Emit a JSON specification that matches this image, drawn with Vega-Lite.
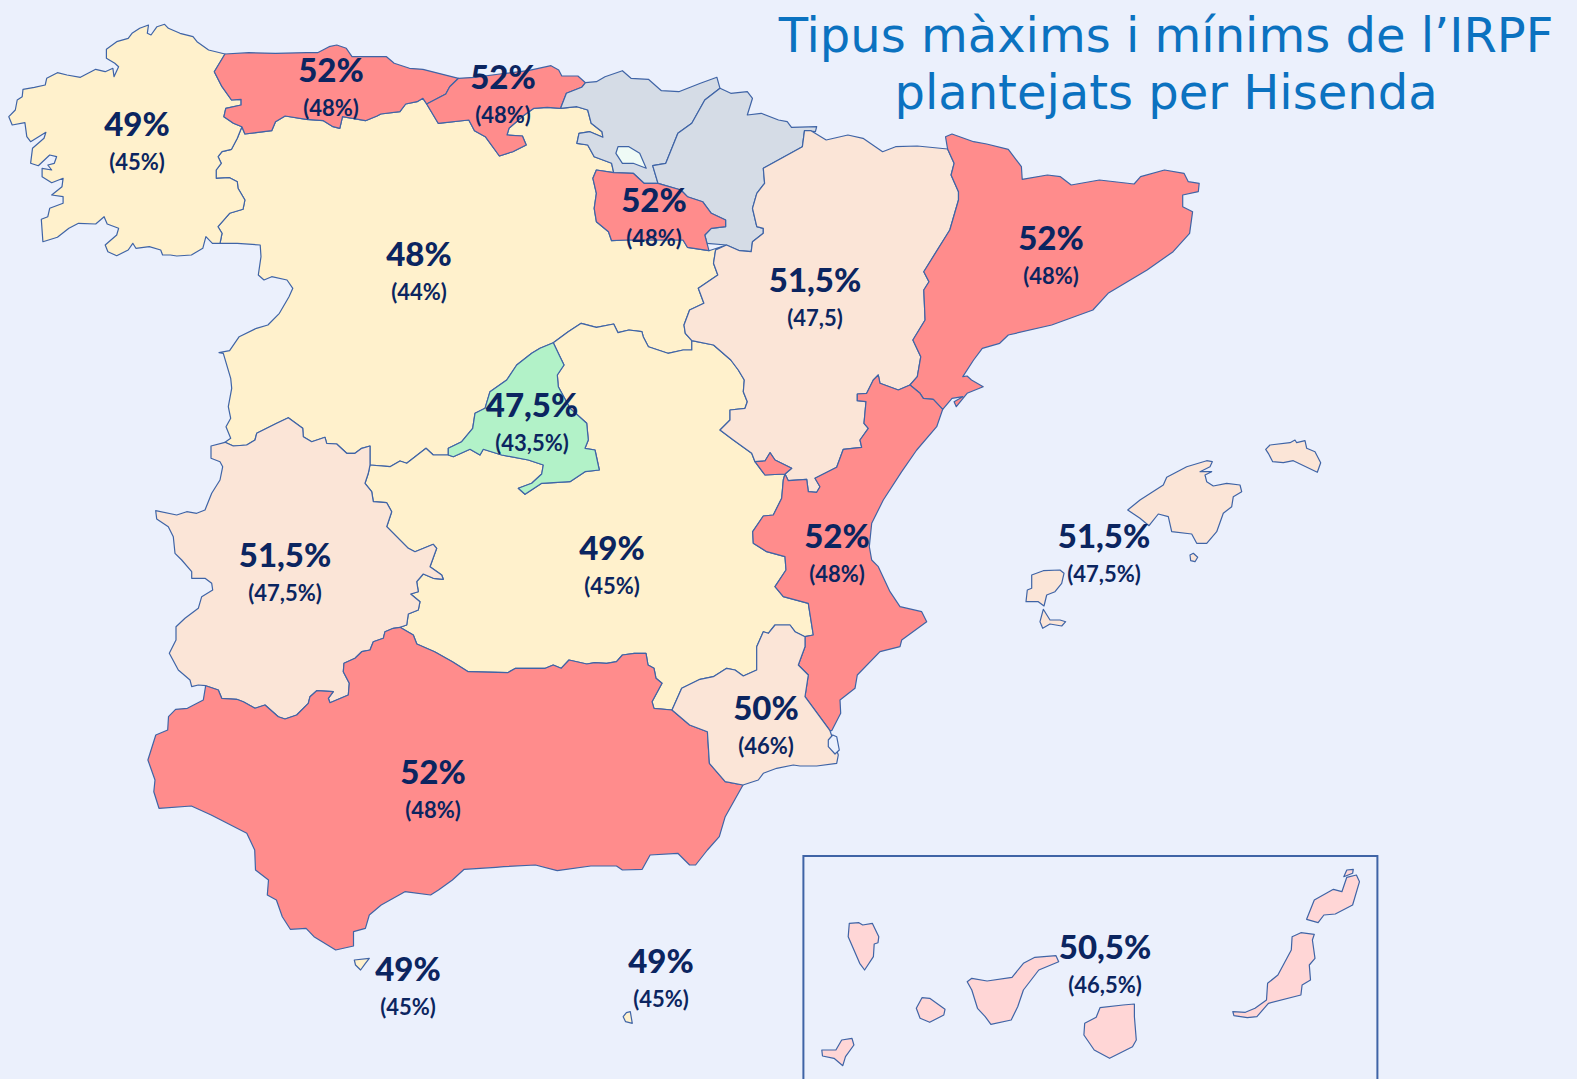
{
"$schema":"https://vega.github.io/schema/vega-lite/v6.json",
"width":1577,"height":1079,"padding":0,"autosize":{"type":"none"},"background":"#EBF0FC",
"config":{"view":{"stroke":null}},
"projection":{"type":"identity","scale":1,"translate":[0,0]},
"layer":[
{"data":{"values":[
{"type":"Feature","properties":{"region":"Castilla y León","group":"yellow"},"geometry":{"type":"Polygon","coordinates":[[[241.9,126.7],[244.9,134],[271.7,130.7],[275.5,121.7],[285.1,116],[306.2,119.3],[323.4,120.7],[333,126.7],[339.8,128.3],[342.5,116.7],[365.5,120.7],[377,116],[380.8,114],[399.9,111.7],[405.7,104],[417.1,101.7],[422.9,98.3],[426.7,104],[438.2,123.3],[468.8,120],[474.5,130.7],[485.3,136.7],[499.4,156],[512.8,151.7],[526.2,145],[522.4,136],[507,135],[509,128.3],[524.3,115],[533.9,108.3],[547.2,107.3],[560.6,108.3],[576.9,106.7],[587.7,110],[591.2,123.3],[602,131.7],[602.9,137.3],[589.9,131.7],[579,133.3],[576.9,143.3],[587.7,145],[594.2,156.7],[611.6,163.3],[613.7,172.7],[596.4,170],[592.9,178.3],[596.4,193.3],[594.2,208.3],[596.4,221.7],[608.5,231.7],[611.6,240.7],[626.7,240],[683,240],[687.4,247.3],[709,250.7],[726.5,245],[715.6,250],[713.5,263.3],[717.8,275],[698.3,288.3],[703.9,303.3],[689.6,310],[684,325],[685.3,333.3],[691.8,340.7],[691.8,350],[683.1,350],[667.9,353.3],[648.4,346.7],[643.2,336.7],[641.9,331.7],[628.9,330],[618,332.7],[613.7,324],[596.4,327.3],[581.2,323.3],[568.2,331.7],[553.3,342.7],[540,348.3],[531.7,353.3],[516.7,365],[506.7,380],[490,391.7],[485,408.3],[475,413.3],[472.7,428.3],[461.7,441.7],[448.3,448.3],[448.3,455],[433.3,455],[426,448.3],[406.7,463.3],[400,461],[390,466.7],[370,465],[370,446],[361.7,448.3],[355,453.3],[346.7,453.3],[336.7,444],[326.7,443.3],[325,437.3],[311.7,441.7],[303.3,436.7],[302.7,428.3],[288.3,417.7],[276.7,423.3],[256.7,433.3],[255,440],[246.7,445],[233.3,446],[225,442.3],[230.7,438.3],[226,426.7],[230.7,418.3],[228.3,406.7],[231.7,388.3],[230.7,378.3],[223.3,353.3],[219,352.7],[229.6,350.7],[239.2,336.7],[256.4,328.3],[267.9,325],[279.4,313.3],[289,296.7],[292.8,288.3],[287,280],[271.7,276.7],[264,280],[258.3,275],[261,256.7],[260.2,245],[237.3,243.3],[220,243.3],[222,233.3],[218,226.7],[229.6,213.3],[243,209.3],[244.9,200],[238,188.3],[237.3,181.7],[229.6,177.7],[216.2,178.3],[216.2,170],[221.2,163.3],[218.1,156.7],[222,151.7],[231.5,149.3],[237.3,138.3],[241.9,126.7]]]}},
{"type":"Feature","properties":{"region":"Castilla-La Mancha","group":"yellow"},"geometry":{"type":"Polygon","coordinates":[[[400,627.3],[413.3,635],[416.8,644],[434.6,651.7],[452.4,661.7],[468.2,671.7],[507.7,672.7],[515.6,668.3],[545.3,668.3],[553.2,665],[561.1,668.3],[569,660],[586.8,664],[594.7,662.7],[606.6,663.3],[616.5,661.7],[622.4,655],[634.3,653.3],[646,653.3],[648,665],[654,668.3],[656,678.3],[662,683.3],[652,701.7],[654,708.3],[672,710],[681.7,688.3],[700,679.3],[713.3,676.7],[726.7,668.3],[735,670],[743.3,676],[756.7,670],[756.7,646.7],[763.3,631.7],[768.3,633.3],[775,625],[790,625],[795,631.7],[805,636.7],[813.3,635],[808.3,603.3],[783.3,596.7],[775,586.7],[786,570],[785,556.7],[766.7,551.7],[753.3,543.3],[752.7,531.7],[763.3,516],[773.3,515],[781.7,498.3],[783.3,480],[785,474],[765,475],[755,461.7],[751.7,453.3],[733.3,440],[720,430],[730,420],[730,410],[745,408.3],[747.3,401.7],[743.3,391.7],[744.3,380],[738.3,370],[730.8,360],[713.5,345],[691.8,340.7],[691.8,350],[683.1,350],[667.9,353.3],[648.4,346.7],[643.2,336.7],[641.9,331.7],[628.9,330],[618,332.7],[613.7,324],[596.4,327.3],[581.2,323.3],[568.2,331.7],[553.3,342.7],[558.3,353.3],[564,365],[557.3,375],[558.3,386.7],[570,408.3],[586.7,423.3],[588.3,440],[585,448.3],[595,450],[599.3,470],[585,471.7],[570,481.7],[541.7,483.3],[525,494.3],[518.3,488.3],[531.7,483.3],[541.7,474],[543.3,465],[528.3,460],[501.7,455],[483.3,449.3],[480,455],[470,449.3],[453.3,456.7],[448.3,455],[433.3,455],[426,448.3],[406.7,463.3],[400,461],[390,466.7],[370,465],[368.3,473.3],[365,483.3],[371.7,491.7],[373.3,501.7],[386.7,502.7],[391.7,511.7],[386.7,526.7],[408.3,548.3],[415,551.7],[433.3,544.3],[436.7,548.3],[430,566.7],[441.7,575],[443.3,579.3],[433.3,578.3],[423.3,574],[416.7,581.7],[418.3,591.7],[410.7,594],[420,601.7],[418.3,610],[408.3,614],[406.7,625],[400,627.3]]]}},
{"type":"Feature","properties":{"region":"Galicia","group":"yellow"},"geometry":{"type":"Polygon","coordinates":[[[225,54],[208.6,50],[197,41.7],[193,36.7],[180,33.3],[168.4,28.3],[164.6,24.3],[157,26.7],[151,35],[147.3,33.3],[148.5,25],[139.7,28.3],[132,33.3],[128.2,38.3],[116.7,41.7],[106.4,49.3],[106.4,58.3],[114.8,63.3],[118.6,66.7],[114,76.7],[112.9,68.3],[105.2,71.7],[95.7,69.3],[80.4,77.3],[67,75],[57.4,72.7],[46.7,78.3],[45.2,85],[34.4,87.3],[23,89.3],[22.2,96.7],[17.2,100],[15.3,110],[8.8,116.7],[12.2,125],[24.9,122.7],[26.8,136.7],[30.6,141.7],[45.9,132.3],[44,138.3],[32.5,148.3],[30.6,163.3],[38.3,165.7],[49.7,155],[56.6,156.7],[54.3,163.3],[47.8,165],[51.7,170],[42.1,168.3],[42.1,176.7],[51.7,182.7],[63.1,178.3],[62,186.7],[51.7,195],[63.1,196.7],[63.1,203.3],[49.7,208.3],[47.8,216.7],[41.3,219.3],[42.9,241.7],[57.4,237.3],[68.9,228.3],[78.5,223.3],[95.7,224],[104.1,216.7],[107.2,224],[118.6,228.3],[116.7,235],[105.2,245],[107.9,251.7],[116.7,255.7],[128.2,250],[132.8,243.3],[135.9,248.3],[149.3,246.7],[160.7,250],[162.6,255],[170.3,255],[176.8,256],[191.4,255],[202.8,248.3],[205.9,236.7],[212.4,243.3],[220,243.3],[222,233.3],[218,226.7],[229.6,213.3],[243,209.3],[244.9,200],[238,188.3],[237.3,181.7],[229.6,177.7],[216.2,178.3],[216.2,170],[221.2,163.3],[218.1,156.7],[222,151.7],[231.5,149.3],[237.3,138.3],[241.9,126.7],[233.4,123.3],[223.9,116.7],[225.8,108.3],[241.1,105],[241.1,99.3],[231.5,100],[222,86.7],[214.3,71.7],[225,54]]]}},
{"type":"Feature","properties":{"region":"Ceuta","group":"yellow"},"geometry":{"type":"Polygon","coordinates":[[[354.3,960],[369.3,958.3],[365.4,963.3],[360.6,970],[355.5,965],[354.3,960]]]}},
{"type":"Feature","properties":{"region":"Melilla","group":"yellow"},"geometry":{"type":"Polygon","coordinates":[[[630.3,1011.7],[632.3,1023.3],[625.6,1021.7],[623.2,1016.7],[626.4,1012.7],[630.3,1011.7]]]}},
{"type":"Feature","properties":{"region":"Asturias","group":"red"},"geometry":{"type":"Polygon","coordinates":[[[225,54],[248.8,52.7],[275.5,53.3],[306.2,52.7],[317.6,52.7],[329.1,46.7],[336.8,45],[346.3,48.3],[352,56.7],[386.5,56.7],[394.2,63.3],[409.5,68.3],[422.9,69.3],[458.5,78.3],[449.7,86.7],[445.8,94],[426.7,104],[422.9,98.3],[417.1,101.7],[405.7,104],[399.9,111.7],[380.8,114],[377,116],[365.5,120.7],[342.5,116.7],[339.8,128.3],[333,126.7],[323.4,120.7],[306.2,119.3],[285.1,116],[275.5,121.7],[271.7,130.7],[244.9,134],[241.9,126.7],[233.4,123.3],[223.9,116.7],[225.8,108.3],[241.1,105],[241.1,99.3],[231.5,100],[222,86.7],[214.3,71.7],[225,54]]]}},
{"type":"Feature","properties":{"region":"Cantabria","group":"red"},"geometry":{"type":"Polygon","coordinates":[[[458.5,78.3],[474.5,77.3],[500,74],[528.1,70.7],[551,65.7],[558.7,70],[561.8,76],[577.9,76],[585.5,82.7],[581.7,87.3],[566.4,93.3],[560.6,108.3],[547.2,107.3],[533.9,108.3],[524.3,115],[509,128.3],[507,135],[522.4,136],[526.2,145],[512.8,151.7],[499.4,156],[485.3,136.7],[474.5,130.7],[468.8,120],[438.2,123.3],[426.7,104],[445.8,94],[449.7,86.7],[458.5,78.3]]]}},
{"type":"Feature","properties":{"region":"País Vasco","group":"grey"},"geometry":{"type":"Polygon","coordinates":[[[585.5,82.7],[596.4,81.7],[605,76.7],[622.4,70.7],[631,78.3],[648.4,79.3],[661.4,90.7],[678.8,91.7],[700.4,83.3],[716.9,77.3],[720,88.3],[704.8,100],[691.8,123.3],[677.9,133.3],[665.8,163.3],[652.7,165.7],[658,183.3],[644,183.3],[633.2,173.3],[613.7,172.7],[611.6,163.3],[594.2,156.7],[587.7,145],[576.9,143.3],[579,133.3],[589.9,131.7],[602.9,137.3],[602,131.7],[591.2,123.3],[587.7,110],[576.9,106.7],[560.6,108.3],[566.4,93.3],[581.7,87.3],[585.5,82.7]]]}},
{"type":"Feature","properties":{"region":"Treviño","group":"light"},"geometry":{"type":"Polygon","coordinates":[[[618,146.7],[628.9,146.7],[639.7,153.3],[646.2,168.3],[633.2,163.3],[622.4,163.3],[615.9,153.3],[618,146.7]]]}},
{"type":"Feature","properties":{"region":"Navarra","group":"grey"},"geometry":{"type":"Polygon","coordinates":[[[720,88.3],[730.8,93.3],[747.3,91.7],[752.5,98.3],[747.3,115],[761.2,113.3],[778.5,120],[787.2,121.7],[791.5,127.3],[816.7,126.7],[815.4,131.7],[804.5,130.7],[802.4,146.7],[763.3,168.3],[764.6,183.3],[756.8,193.3],[752.5,208.3],[756.8,226.7],[763.3,228.3],[763.3,233.3],[752.5,241.7],[751.2,251.7],[739.5,250.7],[726.5,245],[707,243.3],[704.8,235],[711.3,228.3],[725.6,226.7],[725.6,220],[711.3,213.3],[702.6,201.7],[687.4,196.7],[680.9,190],[658,183.3],[652.7,165.7],[665.8,163.3],[677.9,133.3],[691.8,123.3],[704.8,100],[720,88.3]]]}},
{"type":"Feature","properties":{"region":"La Rioja","group":"red"},"geometry":{"type":"Polygon","coordinates":[[[658,183.3],[680.9,190],[687.4,196.7],[702.6,201.7],[711.3,213.3],[725.6,220],[725.6,226.7],[711.3,228.3],[704.8,235],[707,243.3],[709,250.7],[687.4,247.3],[683,240],[626.7,240],[611.6,240.7],[608.5,231.7],[596.4,221.7],[594.2,208.3],[596.4,193.3],[592.9,178.3],[596.4,170],[613.7,172.7],[633.2,173.3],[644,183.3],[658,183.3]]]}},
{"type":"Feature","properties":{"region":"Aragón","group":"peach"},"geometry":{"type":"Polygon","coordinates":[[[804.5,130.7],[811,130.7],[826.2,140],[847.9,135],[863,138.3],[882.6,151.7],[895.6,146.7],[917.3,146],[947.6,149],[954.1,163.3],[951.1,175],[958.5,191.7],[958.5,200],[949.8,230],[923.8,271.7],[929,281.7],[923.8,290],[925.1,320],[912.9,340],[920.8,356.7],[917.3,376.7],[910,385],[898.3,390],[880,383.3],[878.3,375],[873.3,380],[866.7,393.3],[857.3,394],[857.3,400.7],[866,401.7],[864,423.3],[868.3,428.3],[860,440],[861.7,447.3],[843.3,449.3],[836.7,467.3],[815,478.3],[820,486.7],[816.7,492.3],[808.3,491.7],[806.7,479.3],[788.3,480.7],[785,474],[791.7,468.3],[775,460],[770,452.7],[765,461],[755,461.7],[751.7,453.3],[733.3,440],[720,430],[730,420],[730,410],[745,408.3],[747.3,401.7],[743.3,391.7],[744.3,380],[738.3,370],[730.8,360],[713.5,345],[691.8,340.7],[685.3,333.3],[684,325],[689.6,310],[703.9,303.3],[698.3,288.3],[717.8,275],[713.5,263.3],[715.6,250],[726.5,245],[739.5,250.7],[751.2,251.7],[752.5,241.7],[763.3,233.3],[763.3,228.3],[756.8,226.7],[752.5,208.3],[756.8,193.3],[764.6,183.3],[763.3,168.3],[802.4,146.7],[804.5,130.7]]]}},
{"type":"Feature","properties":{"region":"Catalunya","group":"red"},"geometry":{"type":"Polygon","coordinates":[[[947.6,149],[945.5,136.7],[952,134],[973.6,141.7],[986.7,144],[1008.3,149.3],[1021.4,166.7],[1022.2,179.3],[1047.4,175],[1060.4,176.7],[1071.2,185],[1099.4,180],[1134.1,184],[1140.6,176.7],[1164.5,170],[1184,173.3],[1188.3,181.7],[1199.2,183.3],[1198.3,191.7],[1182.7,195],[1182.7,206.7],[1192.6,211.7],[1189.6,233.3],[1173.1,251.7],[1147.1,270],[1108.1,293.3],[1092.9,310],[1051.7,325],[1008.3,335],[999.7,343.3],[982.3,348.3],[973.6,360],[962.8,376.7],[967.1,376],[971.5,380],[983.2,386.7],[967.1,393.3],[956.3,406.7],[954.1,401.7],[962.8,396.7],[952,398.3],[942.7,409.3],[933.3,399.3],[923.3,398.3],[920,393.3],[910,385],[917.3,376.7],[920.8,356.7],[912.9,340],[925.1,320],[923.8,290],[929,281.7],[923.8,271.7],[949.8,230],[958.5,200],[958.5,191.7],[951.1,175],[954.1,163.3],[947.6,149]]]}},
{"type":"Feature","properties":{"region":"Comunitat Valenciana","group":"red"},"geometry":{"type":"MultiPolygon","coordinates":[[[[785,474],[788.3,480.7],[806.7,479.3],[808.3,491.7],[816.7,492.3],[820,486.7],[815,478.3],[836.7,467.3],[843.3,449.3],[861.7,447.3],[860,440],[868.3,428.3],[864,423.3],[866,401.7],[857.3,400.7],[857.3,394],[866.7,393.3],[873.3,380],[878.3,375],[880,383.3],[898.3,390],[910,385],[920,393.3],[923.3,398.3],[933.3,399.3],[942.7,409.3],[936.7,426.7],[916.7,450],[901.7,471.7],[883.3,500],[871.7,523.3],[869.3,546.7],[871.7,560],[878.3,566.7],[890,591.7],[900,606.7],[921.7,611.7],[926.7,621.7],[901.7,640],[900,646.7],[880,651.7],[857.3,675],[855,688.3],[840,700],[840.7,713.3],[831.7,730.7],[830,730.7],[805,696.7],[808.3,675],[798.3,665],[805,646.7],[805,636.7],[813.3,635],[808.3,603.3],[783.3,596.7],[775,586.7],[786,570],[785,556.7],[766.7,551.7],[753.3,543.3],[752.7,531.7],[763.3,516],[773.3,515],[781.7,498.3],[783.3,480],[785,474]]],[[[765,475],[755,461.7],[765,461],[770,452.7],[775,460],[791.7,468.3],[785,474],[765,475]]]]}},
{"type":"Feature","properties":{"region":"Comunidad de Madrid","group":"green"},"geometry":{"type":"Polygon","coordinates":[[[553.3,342.7],[558.3,353.3],[564,365],[557.3,375],[558.3,386.7],[570,408.3],[586.7,423.3],[588.3,440],[585,448.3],[595,450],[599.3,470],[585,471.7],[570,481.7],[541.7,483.3],[525,494.3],[518.3,488.3],[531.7,483.3],[541.7,474],[543.3,465],[528.3,460],[501.7,455],[483.3,449.3],[480,455],[470,449.3],[453.3,456.7],[448.3,455],[448.3,448.3],[461.7,441.7],[472.7,428.3],[475,413.3],[485,408.3],[490,391.7],[506.7,380],[516.7,365],[531.7,353.3],[540,348.3],[553.3,342.7]]]}},
{"type":"Feature","properties":{"region":"Extremadura","group":"peach"},"geometry":{"type":"Polygon","coordinates":[[[370,465],[368.3,473.3],[365,483.3],[371.7,491.7],[373.3,501.7],[386.7,502.7],[391.7,511.7],[386.7,526.7],[408.3,548.3],[415,551.7],[433.3,544.3],[436.7,548.3],[430,566.7],[441.7,575],[443.3,579.3],[433.3,578.3],[423.3,574],[416.7,581.7],[418.3,591.7],[410.7,594],[420,601.7],[418.3,610],[408.3,614],[406.7,625],[400,627.3],[393.3,628.3],[385,631.7],[383.3,638.3],[373.3,641.7],[370,650],[361.7,651.7],[355,658.3],[344,663.3],[343.3,671.7],[349.3,683.3],[348.3,695],[330,702.7],[328.3,698.3],[333.3,691.7],[316.7,690.7],[310,696.7],[308.3,703.3],[296.7,715],[285,719],[278.3,716.7],[265,705],[255,708.3],[243.3,701.7],[236.7,699.3],[221.7,698.3],[218.3,690],[205.7,685.7],[198.3,685],[191.7,686.7],[190,680],[178.3,670],[169.3,653.3],[176,640],[176,626.7],[185,618.3],[198.3,608.3],[201.7,596.7],[212.7,590],[211.7,583.3],[205,578.3],[191.7,578.3],[191.7,571.7],[181.7,560],[175,553.3],[173.3,536.7],[168.3,526.7],[156.7,519],[155.7,510.7],[176.7,515],[186.7,511.7],[196.7,513.3],[205,510],[211.7,493.3],[220,480],[222.7,466.7],[220,461.7],[211,458.3],[211,446],[225,442.3],[233.3,446],[246.7,445],[255,440],[256.7,433.3],[276.7,423.3],[288.3,417.7],[302.7,428.3],[303.3,436.7],[311.7,441.7],[325,437.3],[326.7,443.3],[336.7,444],[346.7,453.3],[355,453.3],[361.7,448.3],[370,446],[370,465]]]}},
{"type":"Feature","properties":{"region":"Andalucía","group":"red"},"geometry":{"type":"Polygon","coordinates":[[[205.7,685.7],[203.3,700],[187.4,708.3],[175.6,709.3],[168.5,716.7],[167.7,730],[155.8,735],[147.9,760],[155,780],[153.8,791.7],[159,808.3],[191.4,806],[211.2,815],[246.8,833.3],[254.7,850],[255.5,870],[268.5,880],[267.3,895],[276.4,900],[282.3,916.7],[290.3,929.3],[306.1,928.3],[314,936.7],[335.7,950],[353.5,946],[353.5,931.7],[365.4,928.3],[369.3,915],[381.2,905],[404.9,891.7],[430.6,895],[438.5,890],[452.4,880],[464.2,869.3],[495.9,867.3],[503.8,866.7],[535.4,865],[557.2,870.7],[590.8,866],[616.5,866],[622.4,870],[642.2,869.3],[650.1,855],[677.8,853.3],[689.6,865],[695.6,865],[707.4,850],[719.3,836.7],[725.2,816.7],[743,785],[725.2,781.7],[709.4,763.3],[707.4,731.7],[689.6,725],[672,710],[654,708.3],[652,701.7],[662,683.3],[656,678.3],[654,668.3],[648,665],[646,653.3],[634.3,653.3],[622.4,655],[616.5,661.7],[606.6,663.3],[594.7,662.7],[586.8,664],[569,660],[561.1,668.3],[553.2,665],[545.3,668.3],[515.6,668.3],[507.7,672.7],[468.2,671.7],[452.4,661.7],[434.6,651.7],[416.8,644],[413.3,635],[400,627.3],[393.3,628.3],[385,631.7],[383.3,638.3],[373.3,641.7],[370,650],[361.7,651.7],[355,658.3],[344,663.3],[343.3,671.7],[349.3,683.3],[348.3,695],[330,702.7],[328.3,698.3],[333.3,691.7],[316.7,690.7],[310,696.7],[308.3,703.3],[296.7,715],[285,719],[278.3,716.7],[265,705],[255,708.3],[243.3,701.7],[236.7,699.3],[221.7,698.3],[218.3,690],[205.7,685.7]]]}},
{"type":"Feature","properties":{"region":"Murcia","group":"peach"},"geometry":{"type":"Polygon","coordinates":[[[672,710],[681.7,688.3],[700,679.3],[713.3,676.7],[726.7,668.3],[735,670],[743.3,676],[756.7,670],[756.7,646.7],[763.3,631.7],[768.3,633.3],[775,625],[790,625],[795,631.7],[805,636.7],[805,646.7],[798.3,665],[808.3,675],[805,696.7],[830,730.7],[838.3,755],[836.7,763.3],[816.7,766],[800,766],[793.3,765],[776.7,768.3],[763.3,773.3],[758.3,780],[743,785],[725.2,781.7],[709.4,763.3],[707.4,731.7],[689.6,725],[672,710]]]}},
{"type":"Feature","properties":{"region":"Mar Menor","group":"sea"},"geometry":{"type":"Polygon","coordinates":[[[828.3,740],[832.7,735],[836.7,736.7],[839.3,750],[835,754],[828.3,746.7],[828.3,740]]]}},
{"type":"Feature","properties":{"region":"Illes Balears","group":"peach"},"geometry":{"type":"MultiPolygon","coordinates":[[[[1127.7,510],[1140,500],[1163.3,485],[1166.7,477.3],[1186.7,466.7],[1206.7,460.7],[1212.3,461.7],[1210,466.7],[1200,471.7],[1211.7,471.7],[1205,475],[1206.7,481.7],[1213.3,486],[1226.7,483.3],[1240,485],[1241.7,491.7],[1233.3,496.7],[1231.7,506.7],[1223.3,513.3],[1216.7,531.7],[1206.7,543.3],[1196.7,543.3],[1191.7,534],[1171.7,531.7],[1168.3,516.7],[1158.3,514],[1149,525.7],[1140,518.3],[1127.7,510]]],[[[1265.7,449.3],[1270,445],[1290,442.7],[1295,440],[1296.7,442.7],[1305,440.7],[1306.7,448.3],[1315,451.7],[1320.7,462.7],[1317.3,472.3],[1293.3,460.7],[1283.3,462.7],[1272.7,461.7],[1268.3,453.3],[1265.7,449.3]]],[[[1190,555],[1193.3,553.3],[1197.7,557.3],[1195,561.7],[1190.7,560.7],[1190,555]]],[[[1031.7,575],[1043.3,570.7],[1060,570],[1064,573.3],[1061.7,583.3],[1055,591.7],[1046.7,595],[1044,606],[1038.3,601.7],[1026,601.7],[1027.3,590],[1031.7,588.3],[1031.7,575]]],[[[1043.3,609.3],[1050,620],[1060,620],[1065.7,621.7],[1061.7,626],[1050,624],[1042.7,628.3],[1040,621.7],[1043.3,609.3]]]]}},
{"type":"Feature","properties":{"region":"Canarias","group":"pink"},"geometry":{"type":"MultiPolygon","coordinates":[[[[849.3,923.3],[858.9,922.7],[862.7,925],[872.3,923.3],[878.8,936.7],[878,942.7],[874.2,944],[873.4,956.7],[864.6,970],[859.7,963.3],[848.2,936.7],[849.3,923.3]]],[[[922,997.7],[929.7,998.3],[945,1009.3],[943.8,1015],[929.7,1022.3],[920.1,1018.3],[916.3,1008.3],[922,997.7]]],[[[821.8,1050],[835.9,1050],[841.7,1040],[852,1038.3],[853.9,1045],[845.5,1056.7],[842.8,1065.7],[834,1058.3],[822.5,1056],[821.8,1050]]],[[[967.2,981.7],[971.8,978.3],[987.1,981],[1012,977.3],[1023.4,963.3],[1034.9,957.3],[1056,955.7],[1058.7,961.7],[1038.8,970],[1023.4,990],[1017.7,1006.7],[1011.2,1020],[990.9,1024.3],[985.2,1016.7],[977.5,1008.3],[971.8,990],[967.2,981.7]]],[[[1100,1007.7],[1123,1005],[1134.4,1004],[1134.4,1016.7],[1136.3,1040],[1132.5,1046.7],[1109.6,1058.3],[1094.2,1050],[1083.9,1035],[1084.7,1023.3],[1096.2,1017.3],[1100,1007.7]]],[[[1232.8,1011.7],[1245.4,1012.3],[1255,1008.3],[1266.5,1000],[1267.6,983.3],[1277.9,975],[1291.3,950],[1292.1,936.7],[1300.9,932.7],[1314.3,934.3],[1312.4,940],[1315,958.3],[1309.3,965],[1310.5,980],[1302.1,985],[1300.9,995],[1268.4,1003.3],[1256.9,1016.7],[1247.3,1017.7],[1233.9,1015.7],[1232.8,1011.7]]],[[[1306.6,919.3],[1314.3,900],[1333.4,889.3],[1341.9,891.7],[1346.8,877.3],[1356.4,875],[1359.5,881.7],[1352.6,905],[1335.3,914],[1323.9,915],[1318.1,922.7],[1306.6,919.3]]],[[[1343.8,876.7],[1346.8,870],[1353.3,869.3],[1352.6,873.3],[1343.8,876.7]]]]}}
]},
"mark":{"type":"geoshape","stroke":"#3F64A6","strokeWidth":1.2,"strokeJoin":"round"},
"encoding":{"color":{"field":"properties.group","type":"nominal","legend":null,"scale":{"domain":["red","peach","pink","yellow","green","grey","light","sea"],"range":["#FF8C8C","#FBE5D7","#FFD6D6","#FFF1CC","#B2F2C8","#D5DCE6","#EFFBF6","#EBF0FC"]}}}},
{"data":{"values":[{"type":"Feature","properties":{"name":"Canarias inset"},"geometry":{"type":"LineString","coordinates":[[803.4,1079],[803.4,856],[1377.4,856],[1377.4,1079]]}}]},
"mark":{"type":"geoshape","filled":false,"stroke":"#3F64A6","strokeWidth":2},"encoding":{}},
{"data":{"name":"labels","values":[
{"region":"Galicia","lon":137,"lat":144,"max":"49%","min":"(45%)"},
{"region":"Asturias","lon":331,"lat":90,"max":"52%","min":"(48%)"},
{"region":"Cantabria","lon":503,"lat":97,"max":"52%","min":"(48%)"},
{"region":"La Rioja","lon":654,"lat":220,"max":"52%","min":"(48%)"},
{"region":"Castilla y León","lon":419,"lat":274,"max":"48%","min":"(44%)"},
{"region":"Aragón","lon":815,"lat":300,"max":"51,5%","min":"(47,5)"},
{"region":"Catalunya","lon":1051,"lat":258,"max":"52%","min":"(48%)"},
{"region":"Madrid","lon":532,"lat":425,"max":"47,5%","min":"(43,5%)"},
{"region":"Extremadura","lon":285,"lat":575,"max":"51,5%","min":"(47,5%)"},
{"region":"Castilla-La Mancha","lon":612,"lat":568,"max":"49%","min":"(45%)"},
{"region":"Comunitat Valenciana","lon":837,"lat":556,"max":"52%","min":"(48%)"},
{"region":"Illes Balears","lon":1104,"lat":556,"max":"51,5%","min":"(47,5%)"},
{"region":"Murcia","lon":766,"lat":728,"max":"50%","min":"(46%)"},
{"region":"Andalucía","lon":433,"lat":792,"max":"52%","min":"(48%)"},
{"region":"Ceuta","lon":408,"lat":989,"max":"49%","min":"(45%)"},
{"region":"Melilla","lon":661,"lat":981,"max":"49%","min":"(45%)"},
{"region":"Canarias","lon":1105,"lat":967,"max":"50,5%","min":"(46,5%)"}
]},
"mark":{"type":"text","font":"Lato","fontWeight":900,"fontSize":33,"color":"#0B2560","dy":-18.5},
"encoding":{"longitude":{"field":"lon","type":"quantitative"},"latitude":{"field":"lat","type":"quantitative"},"text":{"field":"max","type":"nominal"}}},
{"data":{"name":"labels"},
"mark":{"type":"text","font":"Lato","fontWeight":700,"fontSize":22,"color":"#0B2560","dy":18.5},
"encoding":{"longitude":{"field":"lon","type":"quantitative"},"latitude":{"field":"lat","type":"quantitative"},"text":{"field":"min","type":"nominal"}}},
{"data":{"values":[{"line":"Tipus màxims i mínims de l’IRPF","lon":1166,"lat":38},{"line":"plantejats per Hisenda","lon":1166,"lat":95}]},
"mark":{"type":"text","font":"DejaVu Sans","fontWeight":400,"fontSize":48,"color":"#0B72C0"},
"encoding":{"longitude":{"field":"lon","type":"quantitative"},"latitude":{"field":"lat","type":"quantitative"},"text":{"field":"line","type":"nominal"}}}
]}
